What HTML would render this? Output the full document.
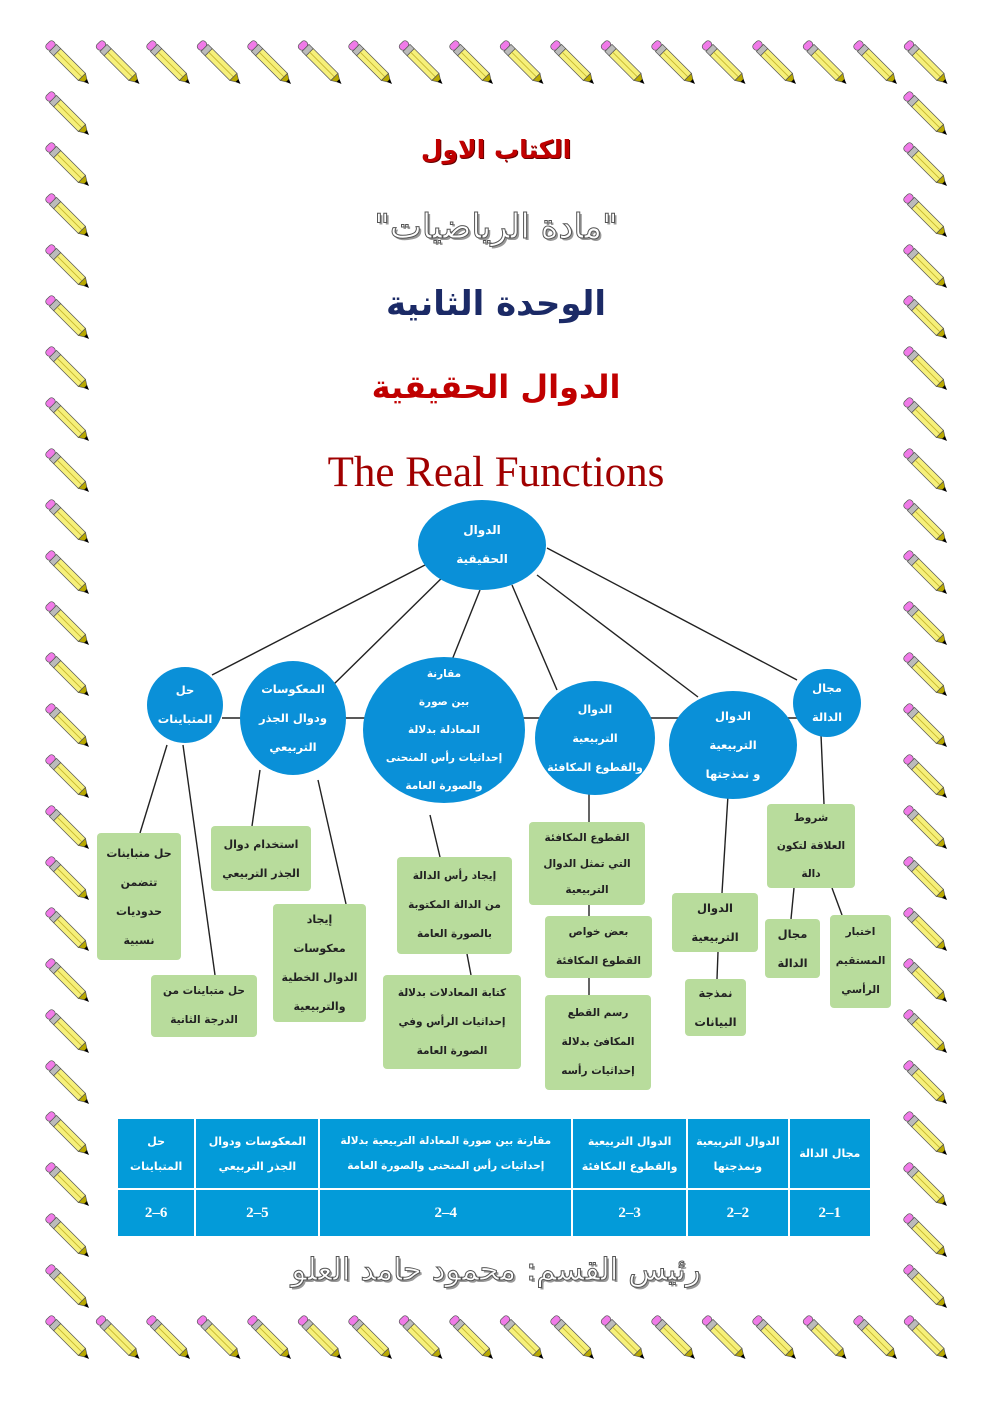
<!DOCTYPE html>
<html><head><meta charset="utf-8">
<style>
body{margin:0;background:#fff;}
#pg{position:relative;width:992px;height:1403px;overflow:hidden;font-family:"DejaVu Sans","Liberation Sans",sans-serif;}
.t{position:absolute;left:0;width:992px;text-align:center;font-weight:bold;direction:rtl;}
.c{position:absolute;background:#0a90d8;border-radius:50%;color:#fff;display:flex;align-items:center;justify-content:center;text-align:center;font-weight:bold;font-size:12px;line-height:29px;direction:rtl;}
.b{position:absolute;background:#b8dc9c;border-radius:4px;color:#222;display:flex;align-items:center;justify-content:center;text-align:center;font-weight:bold;font-size:11.5px;line-height:29px;direction:rtl;}
table{position:absolute;left:116px;top:1117px;width:756px;border-collapse:collapse;direction:rtl;}
td{background:#039bd9;color:#fff;font-weight:bold;text-align:center;border:2px solid #fff;font-size:11px;line-height:25px;padding:0;}
td.n{font-size:15px;direction:ltr;font-family:"Liberation Serif",serif;}
</style></head><body><div id="pg">
<svg width="992" height="1403" style="position:absolute;left:0;top:0">
<defs>
<g id="pen">
<g transform="translate(3,3) rotate(45)">
<rect x="0" y="-5" width="7" height="10" rx="3" fill="#f07ae8" stroke="#555" stroke-width=".7"/>
<rect x="7" y="-5" width="6" height="10" fill="#bbb" stroke="#555" stroke-width=".7"/>
<rect x="13" y="-5" width="35" height="10" fill="#f6f07a" stroke="#555" stroke-width=".7"/>
<line x1="13" y1="0" x2="48" y2="0" stroke="#c8b830" stroke-width="1"/>
<polygon points="48,-5 56,0 48,5" fill="#b8a800" stroke="#555" stroke-width=".7"/>
<polygon points="53,-2 58,0 53,2" fill="#000"/>
</g></g>
<pattern id="ph" patternUnits="userSpaceOnUse" x="45" y="40" width="50.5" height="60"><use href="#pen"/></pattern>
<pattern id="pb" patternUnits="userSpaceOnUse" x="45" y="1315" width="50.5" height="60"><use href="#pen"/></pattern>
<pattern id="pvl" patternUnits="userSpaceOnUse" x="45" y="40" width="60" height="51"><use href="#pen"/></pattern>
<pattern id="pvr" patternUnits="userSpaceOnUse" x="903" y="40" width="60" height="51"><use href="#pen"/></pattern>
</defs>
<rect x="45" y="40" width="905" height="50" fill="url(#ph)"/>
<rect x="45" y="1315" width="905" height="50" fill="url(#pb)"/>
<rect x="45" y="91" width="50" height="1224" fill="url(#pvl)"/>
<rect x="903" y="91" width="50" height="1224" fill="url(#pvr)"/>
<g stroke="#222" stroke-width="1.4">
<line x1="222" y1="718" x2="800" y2="718"/>
<line x1="425" y1="565" x2="212" y2="675"/>
<line x1="455" y1="565" x2="330" y2="688"/>
<line x1="480" y1="590" x2="452" y2="660"/>
<line x1="512" y1="585" x2="557" y2="690"/>
<line x1="537" y1="575" x2="698" y2="697"/>
<line x1="547" y1="548" x2="797" y2="680"/>
<line x1="167" y1="745" x2="140" y2="833"/>
<line x1="183" y1="745" x2="215" y2="975"/>
<line x1="260" y1="770" x2="252" y2="826"/>
<line x1="318" y1="780" x2="346" y2="904"/>
<line x1="430" y1="815" x2="440" y2="857"/>
<line x1="467" y1="954" x2="471" y2="975"/>
<line x1="589" y1="790" x2="589" y2="995"/>
<line x1="728" y1="795" x2="722" y2="893"/>
<line x1="718" y1="952" x2="717" y2="979"/>
<line x1="821" y1="735" x2="824" y2="804"/>
<line x1="794" y1="888" x2="791" y2="919"/>
<line x1="832" y1="888" x2="842" y2="915"/>
</g>
</svg>

<div class="t" style="top:135px;font-size:25px;color:#c00000;text-shadow:1px 1px 0 #600;">الكتاب الاول</div>
<div class="t" style="top:207px;font-size:34px;font-weight:normal;color:#fff;-webkit-text-stroke:1px #555;text-shadow:2px 2px 0 #999;">"مادة الرياضيات"</div>
<div class="t" style="top:284px;font-size:34px;color:#1b2a66;">الوحدة الثانية</div>
<div class="t" style="top:368px;font-size:32px;color:#c00000;">الدوال الحقيقية</div>
<div class="t" style="top:448px;font-size:43px;font-weight:normal;color:#a00000;font-family:'Liberation Serif',serif;direction:ltr;">The Real Functions</div>

<div class="c" style="left:418px;top:500px;width:128px;height:90px;">الدوال<br>الحقيقية</div>
<div class="c" style="left:147px;top:667px;width:76px;height:76px;font-size:11.5px;">حل<br>المتباينات</div>
<div class="c" style="left:240px;top:661px;width:106px;height:114px;font-size:11.5px;">المعكوسات<br>ودوال الجذر<br>التربيعي</div>
<div class="c" style="left:363px;top:657px;width:162px;height:146px;font-size:10.5px;line-height:28px;">مقارنة<br>بين صورة<br>المعادلة بدلالة<br>إحداثيات رأس المنحنى<br>والصورة العامة</div>
<div class="c" style="left:535px;top:681px;width:120px;height:114px;font-size:11px;">الدوال<br>التربيعية<br>والقطوع المكافئة</div>
<div class="c" style="left:669px;top:691px;width:128px;height:108px;font-size:11.5px;">الدوال<br>التربيعية<br>و نمذجتها</div>
<div class="c" style="left:793px;top:669px;width:68px;height:68px;font-size:11.5px;">مجال<br>الدالة</div>

<div class="b" style="left:97px;top:833px;width:84px;height:127px;font-size:11px;">حل متباينات<br>تتضمن<br>حدوديات<br>نسبية</div>
<div class="b" style="left:151px;top:975px;width:106px;height:62px;font-size:10.5px;">حل متباينات من<br>الدرجة الثانية</div>
<div class="b" style="left:211px;top:826px;width:100px;height:65px;font-size:11px;">استخدام دوال<br>الجذر التربيعي</div>
<div class="b" style="left:273px;top:904px;width:93px;height:118px;font-size:11px;">إيجاد<br>معكوسات<br>الدوال الخطية<br>والتربيعية</div>
<div class="b" style="left:397px;top:857px;width:115px;height:97px;font-size:10.5px;">إيجاد رأس الدالة<br>من الدالة المكتوبة<br>بالصورة العامة</div>
<div class="b" style="left:383px;top:975px;width:138px;height:94px;font-size:10.5px;">كتابة المعادلات بدلالة<br>إحداثيات الرأس وفي<br>الصورة العامة</div>
<div class="b" style="left:529px;top:822px;width:116px;height:83px;line-height:26px;font-size:10.5px;">القطوع المكافئة<br>التي تمثل الدوال<br>التربيعية</div>
<div class="b" style="left:545px;top:916px;width:107px;height:62px;font-size:10.5px;">بعض خواص<br>القطوع المكافئة</div>
<div class="b" style="left:545px;top:995px;width:106px;height:95px;font-size:10.5px;">رسم القطع<br>المكافئ بدلالة<br>إحداثيات رأسه</div>
<div class="b" style="left:672px;top:893px;width:86px;height:59px;">الدوال<br>التربيعية</div>
<div class="b" style="left:685px;top:979px;width:61px;height:57px;">نمذجة<br>البيانات</div>
<div class="b" style="left:767px;top:804px;width:88px;height:84px;line-height:28px;font-size:10.5px;">شروط<br>العلاقة لتكون<br>دالة</div>
<div class="b" style="left:765px;top:919px;width:55px;height:59px;">مجال<br>الدالة</div>
<div class="b" style="left:830px;top:915px;width:61px;height:93px;font-size:10.5px;">اختبار<br>المستقيم<br>الرأسي</div>

<table>
<tr style="height:71px"><td style="width:82px">مجال الدالة</td><td style="width:101px">الدوال التربيعية<br>ونمذجتها</td><td style="width:115px">الدوال التربيعية<br>والقطوع المكافئة</td><td style="width:257px;font-size:10.5px">مقارنة بين صورة المعادلة التربيعية بدلالة<br>إحداثيات رأس المنحنى والصورة العامة</td><td style="width:124px">المعكوسات ودوال<br>الجذر التربيعي</td><td style="width:77px">حل<br>المتباينات</td></tr>
<tr style="height:48px"><td class="n">2–1</td><td class="n">2–2</td><td class="n">2–3</td><td class="n">2–4</td><td class="n">2–5</td><td class="n">2–6</td></tr>
</table>

<div class="t" style="top:1252px;font-size:31px;font-weight:normal;color:#fff;-webkit-text-stroke:1px #555;text-shadow:2px 2px 0 #999;">رئيس القسم: محمود حامد العلو</div>
</div></body></html>
